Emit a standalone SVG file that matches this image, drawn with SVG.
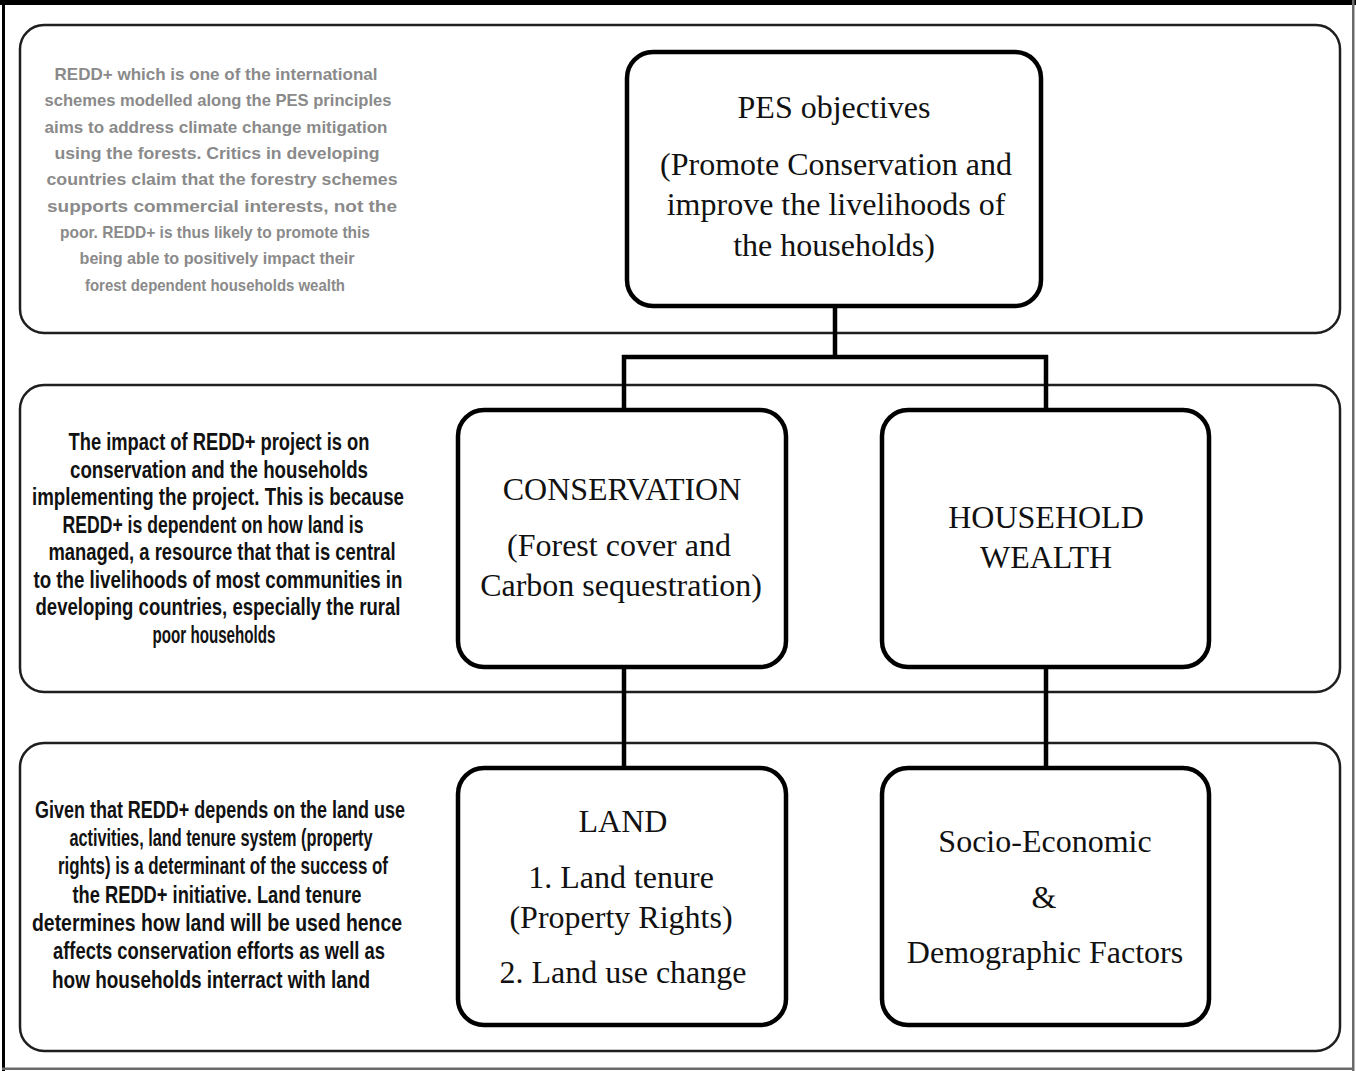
<svg xmlns="http://www.w3.org/2000/svg" width="1356" height="1071" viewBox="0 0 1356 1071">
<style>
.panel{fill:none;stroke:#1e1e1e;stroke-width:2.5}
.node{fill:#fff;stroke:#000;stroke-width:4.5}
.conn{fill:none;stroke:#000;stroke-width:4.5}
.nt{font-family:"Liberation Serif","Times New Roman",serif;font-size:32px;fill:#111;text-anchor:middle}
.p1{font-family:"Liberation Sans",Arial,sans-serif;font-size:17px;fill:#8a8a8a;text-anchor:middle;font-weight:bold}
.p2{font-family:"Liberation Sans",Arial,sans-serif;font-size:23px;fill:#111;text-anchor:middle;font-weight:bold}
</style>
<rect x="0" y="0" width="1356" height="1071" fill="#fff"/>
<g id="frame">
<rect x="0" y="0" width="1356" height="5" fill="#000"/>
<rect x="2" y="0" width="3" height="1071" fill="#000"/>
<rect x="1352" y="0" width="2.5" height="1071" fill="#6a6a6a"/>
<rect x="2" y="1067.5" width="1352" height="2.5" fill="#6a6a6a"/>
</g>
<g id="panels">
<rect id="panel-top" class="panel" x="20" y="25" width="1320" height="308" rx="24" ry="24"/>
<rect id="panel-mid" class="panel" x="20" y="385" width="1320" height="307" rx="24" ry="24"/>
<rect id="panel-bot" class="panel" x="20" y="743" width="1320" height="308" rx="24" ry="24"/>
</g>
<g id="connectors">
<path class="conn" d="M835 306 V357 M622 357 H1048 M624 355 V410 M1046 355 V410"/>
<path class="conn" d="M624 667 V768"/>
<path class="conn" d="M1046 667 V768"/>
</g>
<g id="node-pes">
<rect class="node" x="627" y="52" width="414" height="254" rx="26" ry="26"/>
<text class="nt" x="834" y="118">PES objectives</text>
<text class="nt" x="836" y="175">(Promote Conservation and</text>
<text class="nt" x="836" y="215">improve the livelihoods of</text>
<text class="nt" x="834" y="256">the households)</text>
</g>
<g id="node-conservation">
<rect class="node" x="458" y="410" width="328" height="257" rx="26" ry="26"/>
<text class="nt" x="622" y="500">CONSERVATION</text>
<text class="nt" x="619" y="556">(Forest cover and</text>
<text class="nt" x="621" y="596">Carbon sequestration)</text>
</g>
<g id="node-wealth">
<rect class="node" x="882" y="410" width="327" height="257" rx="26" ry="26"/>
<text class="nt" x="1046" y="528">HOUSEHOLD</text>
<text class="nt" x="1046" y="568">WEALTH</text>
</g>
<g id="node-land">
<rect class="node" x="458" y="768" width="328" height="257" rx="26" ry="26"/>
<text class="nt" x="623" y="832">LAND</text>
<text class="nt" x="621" y="888">1. Land tenure</text>
<text class="nt" x="621" y="928">(Property Rights)</text>
<text class="nt" x="623" y="983">2. Land use change</text>
</g>
<g id="node-socio">
<rect class="node" x="882" y="768" width="327" height="257" rx="26" ry="26"/>
<text class="nt" x="1045" y="852">Socio-Economic</text>
<text class="nt" x="1044" y="908">&amp;</text>
<text class="nt" x="1045" y="963">Demographic Factors</text>
</g>
<g id="text-top">
<text class="p1" x="216" y="80" textLength="323" lengthAdjust="spacingAndGlyphs">REDD+ which is one of the international</text>
<text class="p1" x="218" y="106" textLength="347" lengthAdjust="spacingAndGlyphs">schemes modelled along the PES principles</text>
<text class="p1" x="216" y="133" textLength="343" lengthAdjust="spacingAndGlyphs">aims to address climate change mitigation</text>
<text class="p1" x="217" y="159" textLength="325" lengthAdjust="spacingAndGlyphs">using the forests. Critics in developing</text>
<text class="p1" x="222" y="185" textLength="351" lengthAdjust="spacingAndGlyphs">countries claim that the forestry schemes</text>
<text class="p1" x="222" y="212" textLength="350" lengthAdjust="spacingAndGlyphs">supports commercial interests, not the</text>
<text class="p1" x="215" y="238" textLength="310" lengthAdjust="spacingAndGlyphs">poor. REDD+ is thus likely to promote this</text>
<text class="p1" x="217" y="264" textLength="275" lengthAdjust="spacingAndGlyphs">being able to positively impact their</text>
<text class="p1" x="215" y="291" textLength="260" lengthAdjust="spacingAndGlyphs">forest dependent households wealth</text>
</g>
<g id="text-mid">
<text class="p2" x="219" y="450" textLength="301" lengthAdjust="spacingAndGlyphs">The impact of REDD+ project is on</text>
<text class="p2" x="219" y="477.5" textLength="298" lengthAdjust="spacingAndGlyphs">conservation and the households</text>
<text class="p2" x="218" y="505" textLength="372" lengthAdjust="spacingAndGlyphs">implementing the project. This is because</text>
<text class="p2" x="213" y="532.5" textLength="301" lengthAdjust="spacingAndGlyphs">REDD+ is dependent on how land is</text>
<text class="p2" x="222" y="560" textLength="347" lengthAdjust="spacingAndGlyphs">managed, a resource that that is central</text>
<text class="p2" x="218" y="587.5" textLength="369" lengthAdjust="spacingAndGlyphs">to the livelihoods of most communities in</text>
<text class="p2" x="218" y="615" textLength="365" lengthAdjust="spacingAndGlyphs">developing countries, especially the rural</text>
<text class="p2" x="214" y="642.5" textLength="123" lengthAdjust="spacingAndGlyphs">poor households</text>
</g>
<g id="text-bot">
<text class="p2" x="220" y="818" textLength="370" lengthAdjust="spacingAndGlyphs">Given that REDD+ depends on the land use</text>
<text class="p2" x="221" y="846" textLength="303" lengthAdjust="spacingAndGlyphs">activities, land tenure system (property</text>
<text class="p2" x="223" y="874" textLength="330" lengthAdjust="spacingAndGlyphs">rights) is a determinant of the success of</text>
<text class="p2" x="217" y="903" textLength="289" lengthAdjust="spacingAndGlyphs">the REDD+ initiative. Land tenure</text>
<text class="p2" x="217" y="931" textLength="370" lengthAdjust="spacingAndGlyphs">determines how land will be used hence</text>
<text class="p2" x="219" y="959" textLength="332" lengthAdjust="spacingAndGlyphs">affects conservation efforts as well as</text>
<text class="p2" x="211" y="988" textLength="318" lengthAdjust="spacingAndGlyphs">how households interract with land</text>
</g>
</svg>
